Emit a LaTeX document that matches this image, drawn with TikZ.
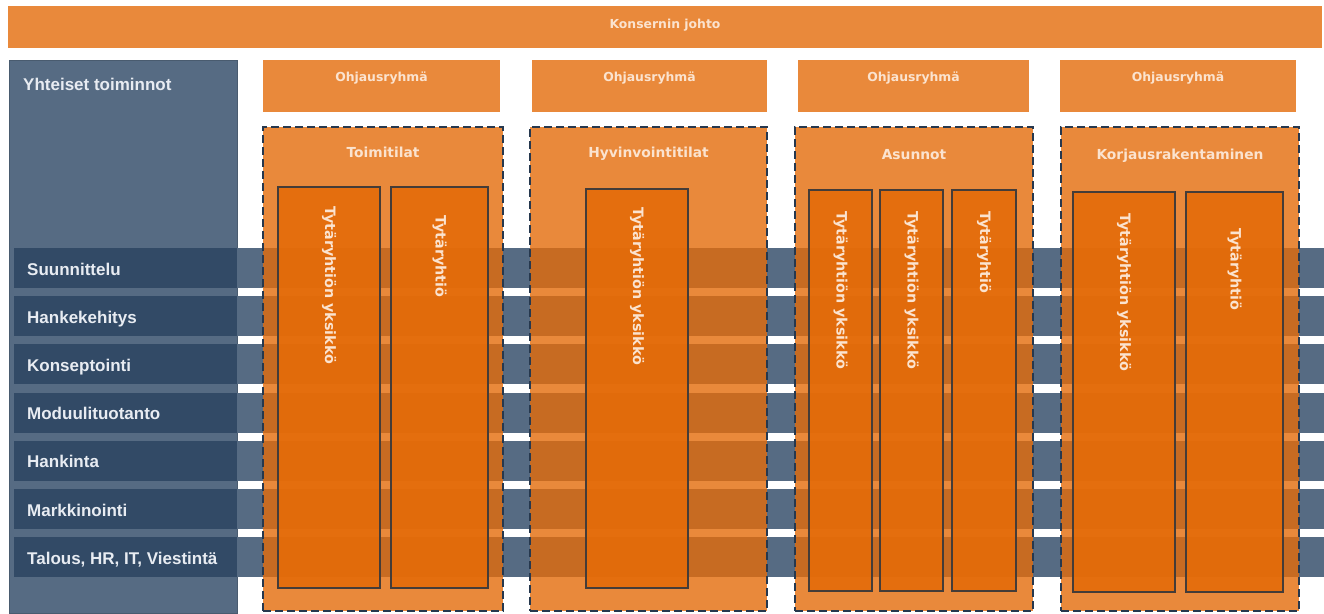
\documentclass[tikz,border=0pt]{standalone}
\usepackage{fontspec}
\setmainfont{Liberation Sans}
\newfontfamily\tahfont{DejaVu Sans}
\definecolor{slate}{RGB}{86,107,131}
\definecolor{navy}{RGB}{50,74,102}
\definecolor{orng}{HTML}{E46C0A}
\definecolor{dashc}{RGB}{38,56,78}
\definecolor{cream}{RGB}{251,227,207}
\definecolor{paneltxt}{RGB}{232,236,242}
\definecolor{innerline}{RGB}{68,60,56}
\newcommand\rbox[6]{%
  \pgfmathsetmacro\bxw{#5-#3}\pgfmathsetmacro\bxh{#6-#4}%
  \node[basebox,#2,minimum width=\bxw pt,minimum height=\bxh pt] (#1) at (#3,#4) {};}
\tikzset{
  basebox/.style={rectangle, inner sep=0pt, outer sep=0pt, anchor=north west},
  orangebox/.style={fill=orng, fill opacity=0.8},
  groupbox/.style={fill=orng, fill opacity=0.8, draw=dashc, line width=2.4pt, dash pattern=on 8pt off 4pt},
  innerbox/.style={fill=orng, fill opacity=0.92, draw=innerline, line width=1.6pt},
  stripe/.style={fill=slate},
  labelbox/.style={fill=navy},
  panel/.style={fill=slate, draw=slate!85!black, line width=1pt},
  otext/.style={text=cream, inner sep=0pt, font=\tahfont\bfseries\fontsize{12.4}{14}\selectfont},
  gtext/.style={text=cream, inner sep=0pt, anchor=base, font=\tahfont\bfseries\fontsize{13.8}{16}\selectfont},
  vtext/.style={text=cream, inner sep=0pt, rotate=-90, anchor=west, font=\tahfont\bfseries\fontsize{14.3}{16}\selectfont},
  ltext/.style={text=paneltxt, inner sep=0pt, anchor=base west, font=\bfseries\fontsize{17}{20}\selectfont},
}
\begin{document}
\begin{tikzpicture}[x=1pt,y=-1pt]
\useasboundingbox (0,0) rectangle (1324,613);
% top bar
\rbox{top}{orangebox}{8}{6}{1322}{48}
\node[otext, anchor=base] (toptext) at (665,28) {Konsernin johto};
% left panel
\rbox{panel}{panel}{9}{60}{237}{613}
\node[ltext] (paneltitle) at (23,90) {Yhteiset toiminnot};
% stripes
\foreach \i/\lab in {0/Suunnittelu,1/Hankekehitys,2/Konseptointi,3/Moduulituotanto,4/Hankinta,5/Markkinointi,6/{Talous, HR, IT, Viestintä}}{
  \pgfmathsetmacro\st{248+48.2*\i}
  \pgfmathsetmacro\sb{\st+40}
  \rbox{stripe\i}{stripe}{14}{\st}{1324}{\sb}
  \rbox{label\i}{labelbox}{14}{\st}{237}{\sb}
  \node[ltext] (labeltext\i) at (27,\st+27) {\lab};
}
% steering groups
\rbox{oh1}{orangebox}{263}{60}{500}{112}
\rbox{oh2}{orangebox}{532}{60}{767}{112}
\rbox{oh3}{orangebox}{798}{60}{1029}{112}
\rbox{oh4}{orangebox}{1060}{60}{1296}{112}
\foreach \k in {1,...,4}{
  \node[otext, anchor=base] (ohtext\k) at ([yshift=-21pt]oh\k.north) {Ohjausryhmä};
}
% business groups
\rbox{g1}{groupbox}{263}{127}{503}{611}
\rbox{g2}{groupbox}{530}{127}{767}{611}
\rbox{g3}{groupbox}{795}{127}{1033}{611}
\rbox{g4}{groupbox}{1061}{127}{1299}{611}
\node[gtext] (g1t) at ([yshift=-30pt]g1.north) {Toimitilat};
\node[gtext] (g2t) at ([yshift=-30pt]g2.north) {Hyvinvointitilat};
\node[gtext] (g3t) at ([yshift=-32pt]g3.north) {Asunnot};
\node[gtext] (g4t) at ([yshift=-32pt]g4.north) {Korjausrakentaminen};
% subsidiaries
\rbox{t1}{innerbox}{278}{187}{380}{588}
\rbox{t2}{innerbox}{391}{187}{488}{588}
\rbox{h1}{innerbox}{586}{189}{688}{588}
\rbox{a1}{innerbox}{809}{190}{872}{591}
\rbox{a2}{innerbox}{880}{190}{943}{591}
\rbox{a3}{innerbox}{952}{190}{1016}{591}
\rbox{k1}{innerbox}{1073}{192}{1175}{592}
\rbox{k2}{innerbox}{1186}{192}{1283}{592}
\node[vtext] (t1t) at ([yshift=-19pt]t1.north) {Tytäryhtiön yksikkö};
\node[vtext] (t2t) at ([yshift=-28pt]t2.north) {Tytäryhtiö};
\node[vtext] (h1t) at ([yshift=-18pt]h1.north) {Tytäryhtiön yksikkö};
\node[vtext] (a1t) at ([yshift=-21pt]a1.north) {Tytäryhtiön yksikkö};
\node[vtext] (a2t) at ([yshift=-21pt]a2.north) {Tytäryhtiön yksikkö};
\node[vtext] (a3t) at ([yshift=-21pt]a3.north) {Tytäryhtiö};
\node[vtext] (k1t) at ([yshift=-21pt]k1.north) {Tytäryhtiön yksikkö};
\node[vtext] (k2t) at ([yshift=-36pt]k2.north) {Tytäryhtiö};
\end{tikzpicture}
\end{document}
